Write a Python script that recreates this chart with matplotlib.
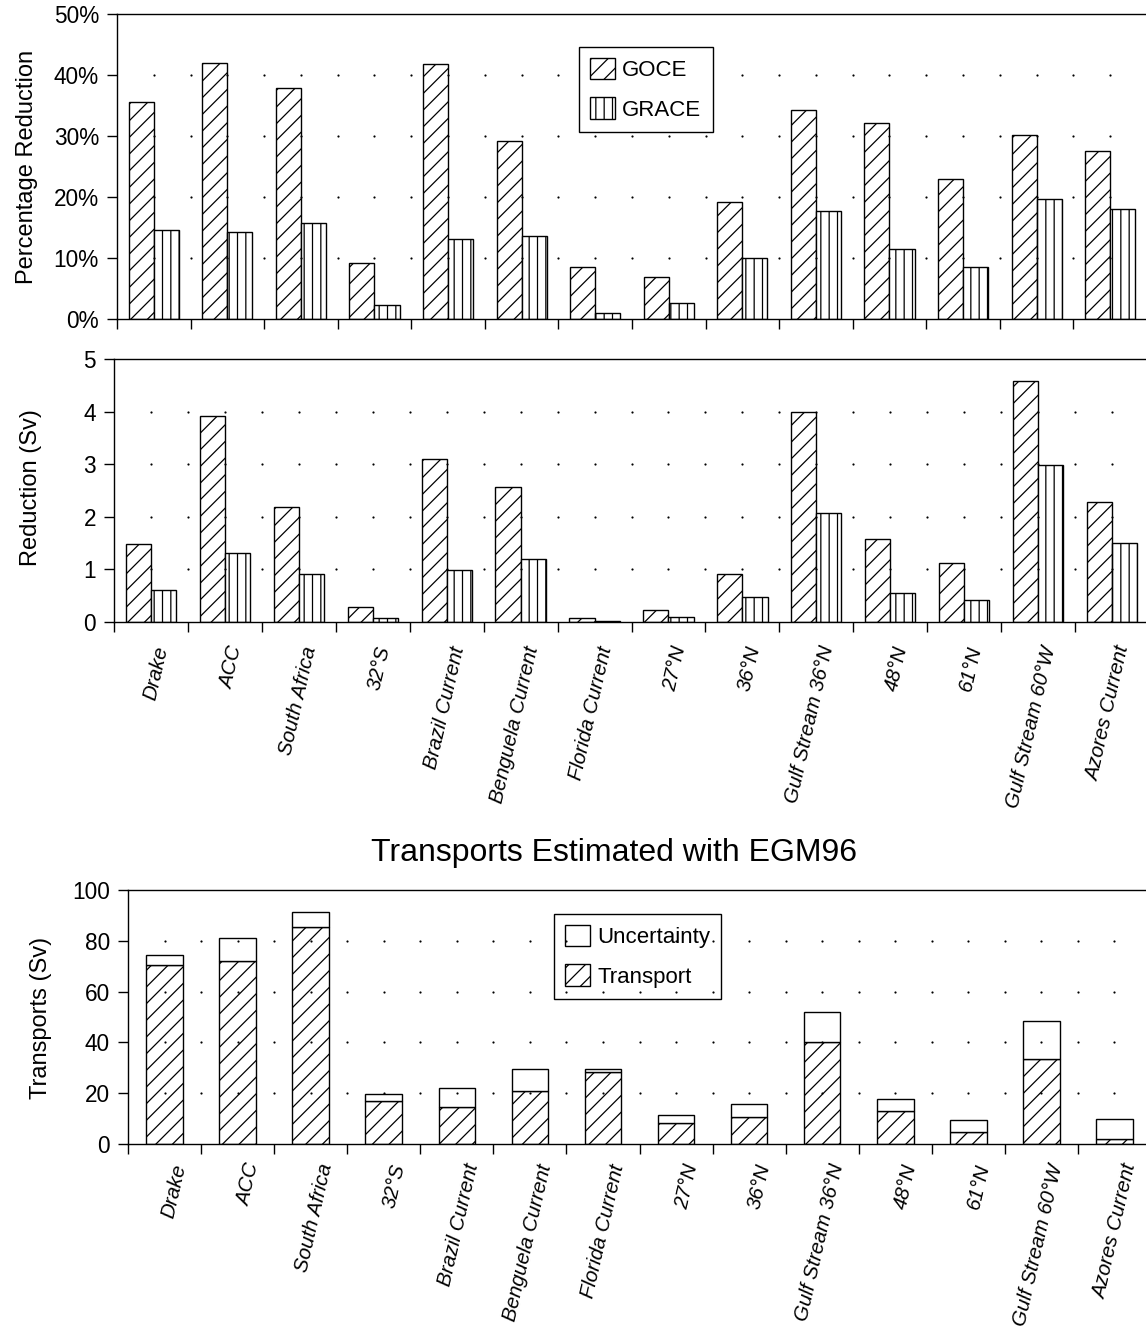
import matplotlib
matplotlib.use("Agg")
import matplotlib.pyplot as plt
from matplotlib.patches import Patch
from matplotlib.transforms import ScaledTranslation
import numpy as np

plt.rcParams['font.family'] = ['Liberation Sans', 'DejaVu Sans']
plt.rcParams['hatch.linewidth'] = 0.9
plt.rcParams['hatch.color'] = 'black'

categories = ["Drake", "ACC", "South Africa", "32°S", "Brazil Current",
              "Benguela Current", "Florida Current", "27°N", "36°N",
              "Gulf Stream 36°N", "48°N", "61°N", "Gulf Stream 60°W",
              "Azores Current"]

goce_pct = [35.6, 42.0, 37.8, 9.1, 41.8, 29.1, 8.5, 6.9, 19.1, 34.2, 32.1, 22.9, 30.2, 27.5]
grace_pct = [14.6, 14.2, 15.7, 2.3, 13.1, 13.6, 1.0, 2.7, 10.0, 17.7, 11.4, 8.5, 19.6, 18.0]

goce_sv = [1.48, 3.91, 2.19, 0.28, 3.10, 2.57, 0.08, 0.23, 0.91, 3.99, 1.57, 1.12, 4.58, 2.29]
grace_sv = [0.61, 1.32, 0.91, 0.07, 0.98, 1.19, 0.01, 0.09, 0.48, 2.07, 0.55, 0.41, 2.98, 1.50]

transport = [70.4, 71.9, 85.6, 16.9, 14.4, 20.7, 28.5, 8.1, 10.8, 40.3, 13.0, 4.6, 33.5, 1.8]
uncertainty = [3.9, 9.3, 5.9, 2.8, 7.5, 8.7, 0.9, 3.4, 4.9, 11.8, 4.8, 4.7, 15.0, 8.2]

pct_ticks = [0, 10, 20, 30, 40, 50]
sv_ticks = [0, 1, 2, 3, 4, 5]
tr_ticks = [0, 20, 40, 60, 80, 100]

W, H = 1146, 1327
fig = plt.figure(figsize=(W / 100, H / 100), dpi=100)


def frac_axes(l, t, r, b):
    return fig.add_axes([l / W, 1 - b / H, (r - l) / W, (b - t) / H])


ax1 = frac_axes(117, 14, 1147, 319)
ax2 = frac_axes(114, 359, 1149, 622)
ax3 = frac_axes(128, 890, 1151, 1144)

n = len(categories)
x = np.arange(n)
TICK_FS = 16.3
XLAB_FS = 14.8
LEG_FS = 16
LABEL_FS = 17
BAR_LW = 1.0


def style(ax, yticks, ylabels, ylab, labx, laby, labels=True, pad=16, xoff=0.2):
    ax.set_xlim(-0.5, n - 0.5)
    ax.set_ylim(yticks[0], yticks[-1])
    ax.spines['right'].set_visible(False)
    for s in ['left', 'top', 'bottom']:
        ax.spines[s].set_linewidth(1.0)
    ax.set_yticks(yticks, labels=ylabels, fontsize=TICK_FS)
    ax.tick_params(axis='y', direction='out', length=7, width=1.0, pad=6)
    ax.set_xticks(np.arange(-0.5, n, 1.0), minor=True)
    ax.tick_params(axis='x', which='minor', direction='out', length=7, width=1.0)
    if labels:
        ax.set_xticks(x, labels=categories, rotation=77, ha='right', va='top',
                      fontsize=XLAB_FS, fontstyle='italic')
        ax.tick_params(axis='x', which='major', length=0, pad=pad)
        off = ScaledTranslation(xoff, 0, fig.dpi_scale_trans)
        for lab in ax.get_xticklabels():
            lab.set_transform(lab.get_transform() + off)
    else:
        ax.set_xticks(x, labels=[''] * n)
        ax.tick_params(axis='x', which='major', length=0)
    ax.set_ylabel(ylab, fontsize=LABEL_FS)
    ax.yaxis.set_label_coords(labx, laby)
    # dotted grid at intersections
    gx = np.arange(0, n, 0.5)
    gy = yticks[1:-1]
    GX, GY = np.meshgrid(gx, gy)
    ax.scatter(GX.ravel(), GY.ravel(), s=2.5, color='black', zorder=3, linewidths=0)


bw = 0.34
# Top panel
ax1.bar(x - bw, goce_pct, width=bw, align='edge', facecolor='white', edgecolor='black',
        hatch='//', linewidth=BAR_LW, zorder=2)
ax1.bar(x, grace_pct, width=bw, align='edge', facecolor='white', edgecolor='black',
        hatch='||', linewidth=BAR_LW, zorder=2)
style(ax1, pct_ticks, [f"{v}%" for v in pct_ticks], "Percentage Reduction",
      (38 - 117) / 1030, 0.5, labels=False)
h1 = [Patch(facecolor='white', edgecolor='black', hatch='//', label='GOCE'),
      Patch(facecolor='white', edgecolor='black', hatch='||', label='GRACE')]
leg1 = ax1.legend(handles=h1, loc='upper left', bbox_to_anchor=((579 - 117) / 1030, (319 - 47) / 305),
                  fontsize=LEG_FS, frameon=True, fancybox=False, framealpha=1,
                  edgecolor='black', handlelength=1.1, handleheight=1.1,
                  handletextpad=0.35, labelspacing=0.72, borderpad=0.5, borderaxespad=0)
leg1.get_frame().set_linewidth(1.0)
leg1.set_zorder(5)

# Middle panel
ax2.bar(x - bw, goce_sv, width=bw, align='edge', facecolor='white', edgecolor='black',
        hatch='//', linewidth=BAR_LW, zorder=2)
ax2.bar(x, grace_sv, width=bw, align='edge', facecolor='white', edgecolor='black',
        hatch='||', linewidth=BAR_LW, zorder=2)
style(ax2, sv_ticks, [str(v) for v in sv_ticks], "Reduction (Sv)",
      (42 - 114) / 1035, 0.513, labels=True, pad=16, xoff=0.21)

# Bottom panel
ax3.bar(x, transport, width=0.5, facecolor='white', edgecolor='black',
        hatch='//', linewidth=BAR_LW, zorder=2)
ax3.bar(x, uncertainty, width=0.5, bottom=transport, facecolor='white',
        edgecolor='black', linewidth=BAR_LW, zorder=2)
style(ax3, tr_ticks, [str(v) for v in tr_ticks], "Transports (Sv)",
      (52 - 128) / 1023, 0.498, labels=True, pad=13, xoff=0.25)
h3 = [Patch(facecolor='none', edgecolor='black', label='Uncertainty'),
      Patch(facecolor='none', edgecolor='black', hatch='//', label='Transport')]
leg3 = ax3.legend(handles=h3, loc='upper left', bbox_to_anchor=((554 - 128) / 1023, (1144 - 914) / 254),
                  fontsize=LEG_FS, frameon=True, fancybox=False,
                  edgecolor='black', handlelength=1.1, handleheight=1.1,
                  handletextpad=0.35, labelspacing=0.72, borderpad=0.5, borderaxespad=0)
fr = leg3.get_frame()
fr.set_alpha(None)
fr.set_facecolor((1, 1, 1, 0))
fr.set_edgecolor('black')
fr.set_linewidth(1.0)
leg3.set_zorder(5)

fig.text(614 / W, 1 - 853 / H, "Transports Estimated with EGM96", ha='center', va='center',
         fontsize=23)

fig.savefig("out.png", dpi=100, facecolor='white')
